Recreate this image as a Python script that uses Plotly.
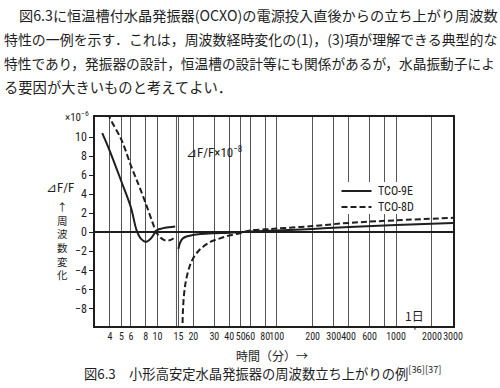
import math
import plotly.graph_objects as go

# ---------------- data ----------------
# warm-up part, left of the 15 min break, scale x10^-6
t_9e_warm = [3.45, 4.0, 5.0, 6.0, 6.7, 7.3, 8.0, 8.7, 9.5, 10.0, 11.0, 12.5, 14.1]
f_9e_warm = [10.4, 8.5, 5.3, 2.6, 0.2, -0.7, -1.02, -0.75, -0.1, 0.25, 0.4, 0.52, 0.6]
t_8d_warm = [3.9, 4.0, 5.0, 6.0, 7.0, 8.0, 9.0, 9.8, 10.5, 11.3, 12.2, 13.2, 14.2]
f_8d_warm = [12.5, 12.0, 9.7, 7.0, 4.9, 3.0, 1.2, 0.0, -0.5, -0.8, -0.88, -0.75, -0.45]
# after the break, scale x10^-8
t_9e_late = [15.0, 15.5, 16.3, 17.5, 19.8, 23, 29, 40, 60, 100, 200, 406, 1000, 3000]
f_9e_late = [-1.75, -1.1, -0.67, -0.45, -0.3, -0.2, -0.12, -0.05, 0.07, 0.17, 0.35, 0.56, 0.75, 0.98]
t_8d_late = [16.2, 16.4, 16.8, 17.4, 18.5, 19.8, 22, 24, 28, 33, 40, 49, 60, 80, 100, 200, 406, 1000, 3000]
f_8d_late = [-10.5, -8.0, -6.3, -5.0, -3.7, -2.8, -2.0, -1.55, -1.0, -0.67, -0.35, -0.1, 0.18, 0.3, 0.38, 0.65, 0.98, 1.25, 1.51]

series_names = ["TCO-9E", "TCO-8D"]
x_ticks = [4, 5, 6, 8, 10, 15, 20, 30, 40, 50, 60, 80, 100, 200, 300, 400, 600, 1000, 2000, 3000]
x_tick_labels = ["4", "5", "6", "8", "10", "15", "20", "30", "40", "50", "60", "80", "100",
                 "200", "300", "400", "600", "1000", "2000", "3000"]
x_extra_grid = [800]
y_ticks = [10, 8, 6, 4, 2, 0, -2, -4, -6, -8]
y_tick_labels = ["10", "8", "6", "4", "2", "0", "−2", "−4", "−6", "−8"]
one_day_min = 1440

text_lines = [
    "図6.3に恒温槽付水晶発振器(OCXO)の電源投入直後からの立ち上がり周波数",
    "特性の一例を示す．これは，周波数経時変化の(1)，(3)項が理解できる典型的な",
    "特性であり，発振器の設計，恒温槽の設計等にも関係があるが，水晶振動子によ",
    "る要因が大きいものと考えてよい．",
]
caption = "図6.3　小形高安定水晶発振器の周波数立ち上がりの例<sup>[36][37]</sup>"
y_title_chars = ["↑", "周", "波", "数", "変", "化"]

# ---------------- figure ----------------
W, H = 500, 388
L, R, T, B = 95, 47, 117, 62
PW, PH = W - L - R, H - T - B


def px(x):
    return (x - L) / PW


def py(y):
    return (H - B - y) / PH


INK = "#1e1e1e"
GRID = "#555"
CJK = "Noto Sans CJK JP"
NUM = "Liberation Sans Narrow, Roboto Condensed, Roboto, Liberation Sans, sans-serif"

solid = dict(color=INK, width=2)
dashed = dict(color=INK, width=2, dash="6px,3px")

fig = go.Figure()
fig.add_trace(go.Scatter(x=t_9e_warm, y=f_9e_warm, mode="lines", line=solid,
                         name=series_names[0], showlegend=False, line_shape="spline"))
fig.add_trace(go.Scatter(x=t_9e_late, y=f_9e_late, mode="lines", line=solid,
                         name=series_names[0], showlegend=False, line_shape="spline"))
fig.add_trace(go.Scatter(x=t_8d_warm, y=f_8d_warm, mode="lines", line=dashed,
                         name=series_names[1], showlegend=False, line_shape="spline"))
fig.add_trace(go.Scatter(x=t_8d_late, y=f_8d_late, mode="lines", line=dashed,
                         name=series_names[1], showlegend=False, line_shape="spline"))


def note(text, x, y, size, family=CJK, xanchor="center", xref="paper"):
    return dict(text=text, x=x, y=py(y), xref=xref, yref="paper",
                xanchor=xanchor, yanchor="middle", showarrow=False,
                font=dict(family=family, size=size, color=INK))


annotations = []
# paragraph above the chart
line_y = [15, 39, 63, 87]
line_x = [17, 2, 2, 2]
line_size = [14.2, 13.95, 13.7, 14.3]
for txt, yy, xx, sz in zip(text_lines, line_y, line_x, line_size):
    annotations.append(note(txt, px(xx), yy, sz, xanchor="left"))
# y axis title: ΔF/F, arrow and vertical 周波数変化
annotations.append(note("⊿F/F", px(60), 187, 13, family=NUM))
annotations.append(note("<br>".join(y_title_chars), px(62), 240, 10.5))
# scale labels
annotations.append(note("×10<sup>−6</sup>", px(91), 116, 11, family=NUM, xanchor="right"))
annotations.append(note("⊿F/F×10<sup>−8</sup>", px(214), 152, 13, family=NUM))
# one day marker
annotations.append(note("1日", math.log10(one_day_min), 315, 12, xref="x"))
# x title and caption
annotations.append(note("時間（分）→", px(272), 355, 12))
annotations.append(note(caption, px(82), 372, 13.3, xanchor="left"))
# legend texts
leg_y = [191, 207]
for name, yy in zip(series_names, leg_y):
    annotations.append(note(name, px(376), yy, 12, family=NUM, xanchor="left"))

shapes = [
    # scale break next to 15 min
    dict(type="line", xref="x", yref="paper", x0=14.45, x1=14.45, y0=0, y1=1,
         line=dict(color=GRID, width=1), layer="below"),
    # 1 day tick below the axis
    dict(type="line", xref="x", yref="paper", x0=one_day_min, x1=one_day_min, y0=0, y1=-0.018,
         line=dict(color=INK, width=1)),
]
for g in x_extra_grid:
    shapes.append(dict(type="line", xref="x", yref="paper", x0=g, x1=g, y0=0, y1=1,
                       line=dict(color=GRID, width=1), layer="below"))
shapes += [
    # legend background and samples
    dict(type="rect", xref="paper", yref="paper", x0=px(336), x1=px(420), y0=py(214), y1=py(182),
         fillcolor="white", line=dict(width=0), layer="above"),
    dict(type="line", xref="paper", yref="paper", x0=px(341.5), x1=px(371.5), y0=py(191), y1=py(191),
         line=solid, layer="above"),
    dict(type="line", xref="paper", yref="paper", x0=px(341.5), x1=px(371.5), y0=py(207), y1=py(207),
         line=dashed, layer="above"),
]

fig.update_layout(
    width=W, height=H,
    margin=dict(l=L, r=R, t=T, b=B),
    paper_bgcolor="white", plot_bgcolor="white",
    annotations=annotations, shapes=shapes,
    showlegend=False,
    xaxis=dict(type="log", range=[math.log10(3), math.log10(3000)],
               tickvals=x_ticks, ticktext=x_tick_labels, tickangle=0,
               showgrid=True, gridcolor=GRID, gridwidth=1,
               showline=True, mirror=True, linecolor=INK, linewidth=1.5,
               ticks="", tickfont=dict(family=NUM, size=10, color=INK)),
    yaxis=dict(range=[-9.85, 12.1], tickvals=y_ticks, ticktext=y_tick_labels,
               showgrid=False, zeroline=True, zerolinecolor=INK, zerolinewidth=1.5,
               showline=True, mirror=True, linecolor=INK, linewidth=1.5,
               ticks="outside", ticklen=4, tickcolor=INK,
               tickfont=dict(family=NUM, size=12, color=INK)),
)

fig.write_html("out.html", config={"displayModeBar": False},
               post_script="document.body.style.margin='0';")
